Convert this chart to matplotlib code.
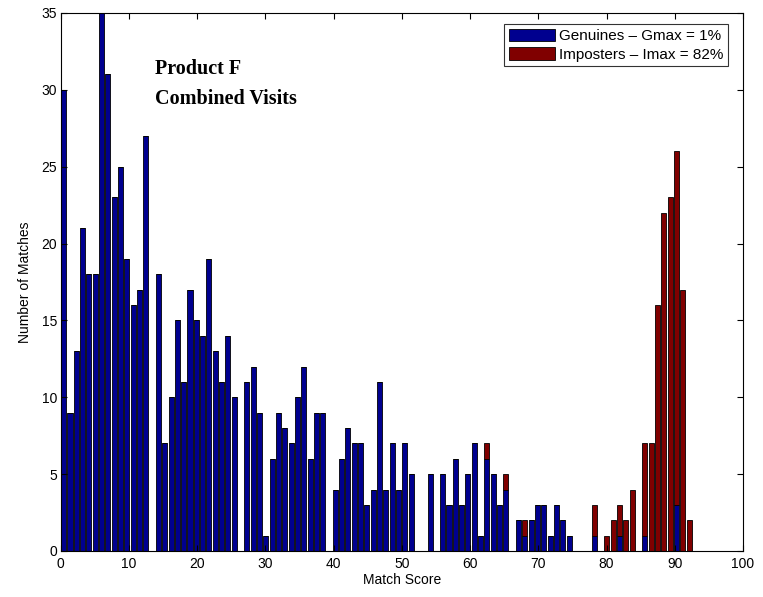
import numpy as np
import matplotlib.pyplot as plt

plt.rcParams['font.family'] = ['Liberation Sans', 'DejaVu Sans']

# histogram of match scores, 100 bins between 0 and the max score
score_max = 92.56
n_bins = 100

genuines = [30, 9, 13, 21, 18, 18, 35, 31, 23, 25,
            19, 16, 17, 27, 0, 18, 7, 10, 15, 11,
            17, 15, 14, 19, 13, 11, 14, 10, 0, 11,
            12, 9, 1, 6, 9, 8, 7, 10, 12, 6,
            9, 9, 0, 4, 6, 8, 7, 7, 3, 4,
            11, 4, 7, 4, 7, 5, 0, 0, 5, 0,
            5, 3, 6, 3, 5, 7, 1, 6, 5, 3,
            4, 0, 2, 1, 2, 3, 3, 1, 3, 2,
            1, 0, 0, 0, 1, 0, 0, 0, 1, 0,
            0, 0, 1, 0, 0, 0, 0, 3, 0, 0]

imposters = [0] * 67 + [1, 0, 0, 1, 0, 0, 1, 0, 0,
                        0, 0, 0, 0, 0, 0, 0, 0, 2, 0,
                        1, 2, 2, 2, 4, 0, 6, 7, 16, 22,
                        23, 23, 17, 2]

labels = ['Genuines \u2013 Gmax = 1%', 'Imposters \u2013 Imax = 82%']

bin_w = score_max / n_bins
centers = (np.arange(n_bins) + 0.5) * bin_w

fig = plt.figure(figsize=(7.63, 5.97), dpi=100)
ax = fig.add_axes([60.5 / 763, 1 - 551 / 597, 682.5 / 763, 538 / 597])

ax.bar(centers, genuines, width=0.8 * bin_w, color='#00008f',
       edgecolor='black', linewidth=0.6, label=labels[0])
ax.bar(centers, imposters, width=0.8 * bin_w, bottom=genuines, color='#800000',
       edgecolor='black', linewidth=0.6, label=labels[1])

ax.set_xlim(0, 100)
ax.set_ylim(0, 35)
ax.set_xticks(np.arange(0, 101, 10))
ax.set_yticks(np.arange(0, 36, 5))
ax.tick_params(direction='in', top=True, right=True, length=4.5, labelsize=10)
ax.tick_params(axis='x', pad=4.5)
ax.tick_params(axis='y', pad=2.5)
ax.set_xlabel('Match Score', fontsize=10, labelpad=1)
ax.set_ylabel('Number of Matches', fontsize=10, labelpad=7)

ax.text(13.8, 31.0, 'Product F', family='Liberation Serif',
        fontsize=14.5, fontweight='bold', va='baseline')
ax.text(13.8, 29.1, 'Combined Visits', family='Liberation Serif',
        fontsize=14.5, fontweight='bold', va='baseline')

leg = ax.legend(loc='upper right', bbox_to_anchor=(0.978, 0.9796), borderaxespad=0,
                fontsize=11, fancybox=False, edgecolor='black',
                handlelength=3.0, handleheight=0.9, labelspacing=0.27,
                handletextpad=0.27, borderpad=0.3)
leg.get_frame().set_linewidth(0.8)

fig.savefig('out.png', dpi=100)
